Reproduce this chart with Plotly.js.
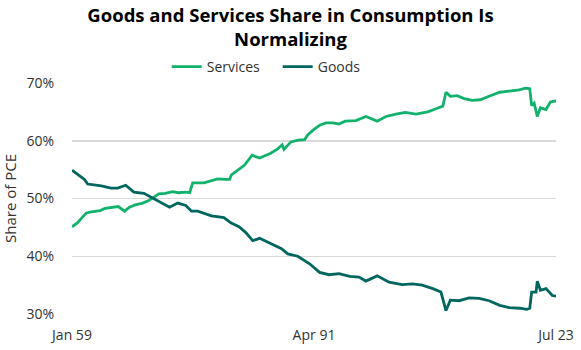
<!DOCTYPE html>
<html>
<head>
<meta charset="utf-8">
<script src="https://cdn.plot.ly/plotly-3.0.1.min.js"></script>
<style>html,body{margin:0;padding:0;background:#fff}#chart{width:581px;height:350px}</style>
</head>
<body>
<div id="chart"></div>
<script>
// Services share of PCE (%)
const servicesDates = ["1959-01","1959-10","1960-05","1960-12","1961-08","1962-10","1963-06","1964-03","1965-03","1966-01","1966-09","1967-06","1968-06","1969-03","1970-01","1970-08","1971-06","1972-06","1973-03","1974-02","1974-09","1975-02","1976-08","1977-06","1978-06","1979-06","1980-01","1980-04","1981-04","1982-01","1983-01","1984-01","1985-06","1986-06","1987-01","1987-04","1988-03","1989-03","1990-01","1990-06","1991-02","1992-01","1992-11","1993-10","1994-08","1995-06","1996-11","1998-03","1999-09","2000-11","2002-03","2003-06","2004-11","2006-06","2007-06","2008-01","2008-06","2008-11","2009-06","2010-05","2011-04","2012-05","2013-06","2014-08","2016-01","2017-04","2018-08","2019-06","2020-01","2020-04","2020-08","2021-01","2021-06","2022-03","2022-10","2023-07"];
const servicesValues = [45.1,45.8,46.7,47.5,47.7,47.9,48.3,48.4,48.6,47.8,48.5,48.9,49.2,49.6,50.3,50.8,50.9,51.2,51.0,51.1,51.0,52.7,52.7,53.0,53.4,53.3,53.3,54.1,55.0,55.8,57.5,57.0,57.8,58.6,59.3,58.5,59.8,60.1,60.2,61.0,61.8,62.7,63.1,63.1,62.9,63.4,63.5,64.2,63.4,64.2,64.6,64.9,64.6,65.0,65.5,65.8,66.0,68.4,67.7,67.8,67.3,67.0,67.1,67.7,68.4,68.6,68.8,69.1,69.0,66.1,66.5,64.2,65.7,65.4,66.7,66.9];

// Goods share of PCE (%)
const goodsDates = ["1959-01","1959-10","1960-03","1960-09","1961-02","1962-12","1964-03","1965-02","1966-03","1967-04","1968-08","1969-09","1970-12","1972-01","1973-02","1974-03","1974-12","1975-10","1977-08","1979-04","1980-03","1981-04","1982-03","1983-02","1984-01","1985-08","1986-12","1987-10","1989-02","1990-09","1992-01","1993-04","1994-08","1996-01","1997-04","1998-03","1999-09","2001-04","2003-01","2004-05","2005-09","2007-02","2008-03","2008-11","2009-06","2010-08","2011-12","2013-04","2014-08","2016-01","2017-04","2018-09","2019-08","2020-01","2020-04","2020-11","2021-01","2021-06","2022-03","2023-01","2023-07"];
const goodsValues = [54.9,54.2,53.8,53.3,52.5,52.2,51.8,51.8,52.3,51.1,50.9,50.1,49.2,48.5,49.2,48.8,47.8,47.8,47.0,46.7,45.8,45.1,44.1,42.7,43.1,42.1,41.3,40.4,40.0,38.7,37.2,36.8,37.0,36.5,36.4,35.7,36.6,35.5,35.1,35.2,35.0,34.4,33.8,30.6,32.4,32.3,32.8,32.7,32.3,31.5,31.1,31.0,30.8,31.0,33.8,33.8,35.7,34.1,34.4,33.2,33.1];

const tickVals = ["1959-01-01","1991-04-01","2023-07-01"];
const tickText = ["Jan 59","Apr 91","Jul 23"];
const yTicks = [30,40,50,60,70];
const yTickText = ["30%","40%","50%","60%","70%"];

const FONT = "Open Sans, Noto Sans, sans-serif";

const traces = [
  {x: servicesDates, y: servicesValues, name: "Services", type: "scatter", mode: "lines",
   line: {color: "#12b26d", width: 2.8}},
  {x: goodsDates, y: goodsValues, name: "Goods", type: "scatter", mode: "lines",
   line: {color: "#00665f", width: 2.8}}
];

const layout = {
  width: 581, height: 350,
  margin: {l: 72, r: 25, t: 81, b: 36},
  paper_bgcolor: "#fff", plot_bgcolor: "#fff",
  font: {family: FONT, size: 14, color: "#333"},
  title: {
    text: "<b>Goods and Services Share in Consumption Is<br>Normalizing</b>",
    font: {family: FONT, size: 18.5, color: "#000"},
    x: 0.5, xanchor: "center", xref: "container",
    y: 0.936, yanchor: "top", yref: "container"
  },
  showlegend: true,
  legend: {orientation: "h", xref: "container", yref: "container", x: 0.478, xanchor: "center",
           y: 1 - 67/350, yanchor: "middle", font: {family: FONT, size: 14, color: "#333"},
           entrywidth: 66, bgcolor: "rgba(0,0,0,0)"},
  xaxis: {
    type: "date", range: ["1959-01-01","2023-07-01"],
    tickvals: tickVals, ticktext: tickText,
    showgrid: false, zeroline: false, showline: false,
    ticks: "outside", ticklen: 8, tickcolor: "rgba(0,0,0,0)",
    tickfont: {family: FONT, size: 14, color: "#333"}
  },
  yaxis: {
    range: [30, 70], tickvals: yTicks, ticktext: yTickText,
    showgrid: true, gridcolor: "#d9d9d9", gridwidth: 1.5,
    zeroline: false, showline: false,
    ticks: "outside", ticklen: 14, tickcolor: "rgba(0,0,0,0)",
    tickfont: {family: FONT, size: 14, color: "#333"},
    title: {text: "Share of PCE", font: {family: FONT, size: 15, color: "#333"}, standoff: 8}
  }
};

Plotly.newPlot("chart", traces, layout, {displayModeBar: false, staticPlot: true});
</script>
</body>
</html>
